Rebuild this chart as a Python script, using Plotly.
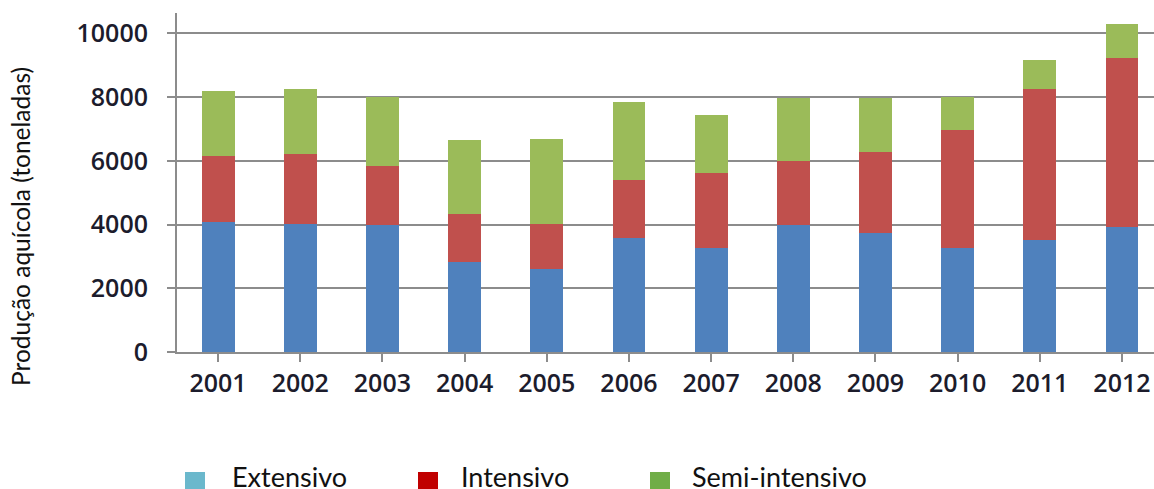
import plotly.graph_objects as go

anos = ["2001", "2002", "2003", "2004", "2005", "2006",
        "2007", "2008", "2009", "2010", "2011", "2012"]
extensivo = [4070, 4030, 3980, 2830, 2620, 3580, 3280, 3980, 3750, 3280, 3510, 3920]
intensivo = [2080, 2180, 1850, 1500, 1410, 1810, 2330, 2030, 2530, 3680, 4730, 5320]
semi_intensivo = [2050, 2060, 2180, 2320, 2650, 2460, 1820, 1970, 1700, 1050, 910, 1060]

y_ticks = [0, 2000, 4000, 6000, 8000, 10000]

series = [
    ("Extensivo", extensivo, "#4F81BD", "#6BB8CC"),
    ("Intensivo", intensivo, "#C0504D", "#C00000"),
    ("Semi-intensivo", semi_intensivo, "#9BBB59", "#70AD47"),
]

W, H = 1154, 489
ML, MR, MT, MB = 177, 0, 13, 137
PW, PH = W - ML - MR, H - MT - MB

def px(x):
    return (x - ML) / PW

def py(y):
    return (H - MB - y) / PH

fig = go.Figure()
for name, vals, col, _ in series:
    fig.add_trace(go.Bar(x=list(range(len(anos))), y=vals, name=name,
                         marker=dict(color=col, line=dict(width=0)),
                         width=0.4, showlegend=False))

tick_font = dict(family="'Open Sans', Lato, sans-serif", size=25,
                 color="#1C1C2C", weight=600)

fig.update_layout(
    barmode="stack",
    width=W, height=H,
    margin=dict(l=ML, r=MR, t=MT, b=MB),
    paper_bgcolor="white", plot_bgcolor="white",
    xaxis=dict(
        tickmode="array", tickvals=list(range(len(anos))), ticktext=anos,
        range=[-0.5, 11.39], showgrid=False, showline=True,
        linecolor="#8C8C8C", linewidth=2,
        ticks="outside", ticklen=8, tickcolor="#8C8C8C", tickwidth=2,
        tickfont=tick_font, zeroline=False, tickson="boundaries",
    ),
    yaxis=dict(
        range=[0, 10640], tickvals=y_ticks, ticktext=[str(v) for v in y_ticks],
        showgrid=True, gridcolor="#8C8C8C", gridwidth=2,
        showline=True, linecolor="#8C8C8C", linewidth=2,
        ticks="outside", ticklen=8, tickcolor="#8C8C8C", tickwidth=2,
        tickfont=tick_font, ticklabelstandoff=14, zeroline=False,
    ),
)

# y-axis title
fig.add_annotation(
    text="Produção aquícola (toneladas)", textangle=-90,
    xref="paper", yref="paper", x=px(20), y=py(227),
    showarrow=False, xanchor="center", yanchor="middle",
    font=dict(family="Lato, sans-serif", size=24.5, color="#111111"),
)

# legend drawn underneath the chart
legend_items = [(185, 230), (418, 459), (650, 690)]
for (sq_x, tx_x), (name, _, _, lcol) in zip(legend_items, series):
    fig.add_shape(type="rect", xref="paper", yref="paper",
                  x0=px(sq_x), x1=px(sq_x + 20), y0=py(492), y1=py(472),
                  fillcolor=lcol, line=dict(width=0))
    fig.add_annotation(text=name, xref="paper", yref="paper",
                       x=px(tx_x), y=py(476), showarrow=False,
                       xanchor="left", yanchor="middle",
                       font=dict(family="Lato, sans-serif", size=27, color="#111111"))

fig.write_html("out.html")
